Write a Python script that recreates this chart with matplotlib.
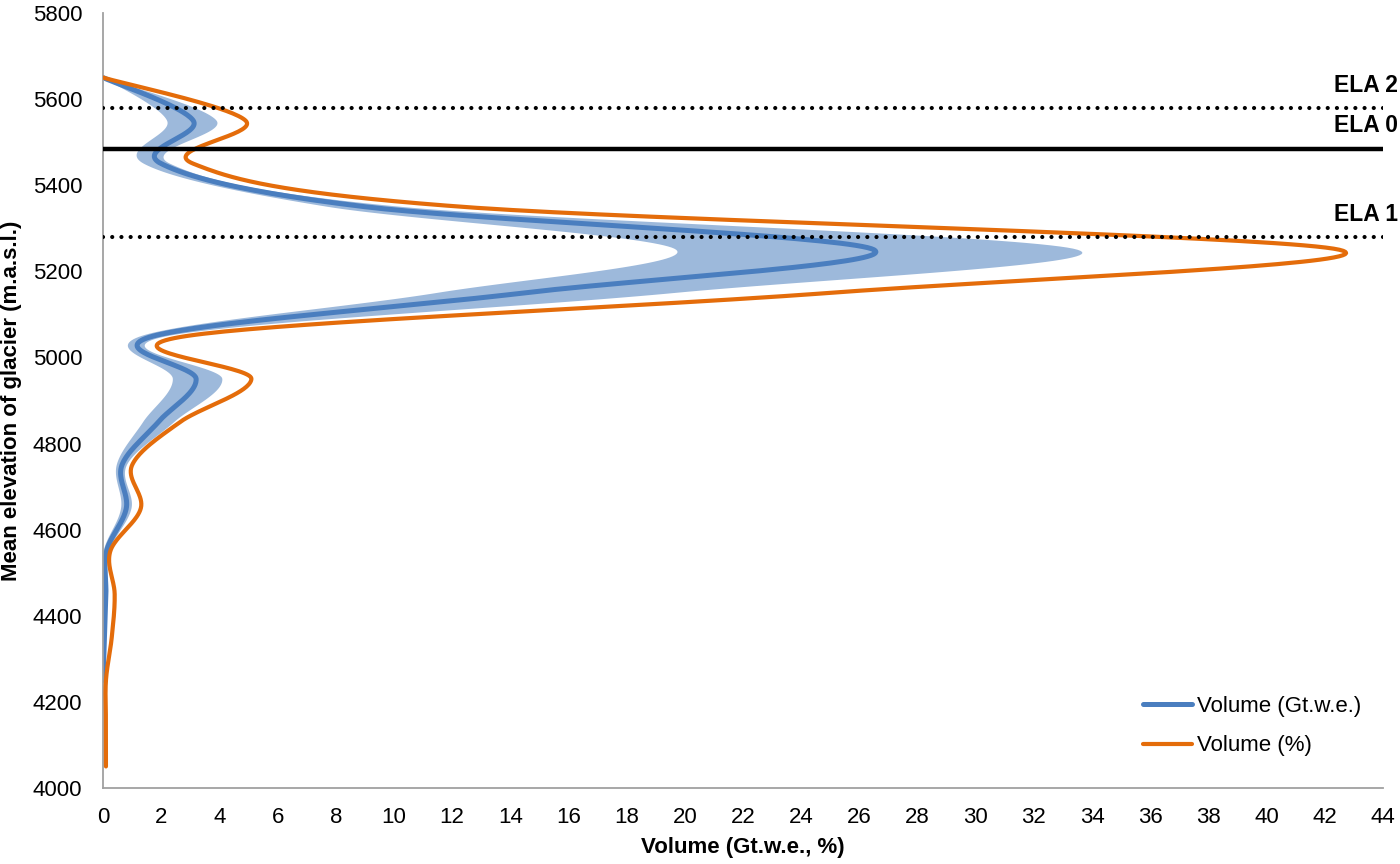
import numpy as np
import matplotlib
matplotlib.use("Agg")
import matplotlib.pyplot as plt

plt.rcParams['font.family'] = ['Liberation Sans', 'DejaVu Sans']

# ---- data ----
elev = [4050, 4150, 4250, 4350, 4450, 4550, 4650, 4750, 4850, 4950,
        5050, 5150, 5250, 5350, 5450, 5550, 5650]
vol_pct = [0.1, 0.1, 0.1, 0.3, 0.4, 0.25, 1.3, 1.0, 2.65, 5.1,
           2.9, 25.0, 42.5, 12.3, 3.1, 4.9, 0.0]

elev_gt = [4250, 4350, 4450, 4550, 4650, 4750, 4850, 4950,
           5050, 5150, 5250, 5350, 5450, 5550, 5650]
vol_gt = [0.0, 0.05, 0.1, 0.12, 0.8, 0.65, 1.9, 3.2,
          1.75, 14.5, 26.5, 9.0, 2.0, 3.1, 0.0]
band_low = [0.0, 0.0, 0.0, 0.02, 0.62, 0.47, 1.38, 2.4,
            1.33, 11.5, 19.7, 7.7, 1.4, 2.2, 0.0]
band_high = [0.0, 0.08, 0.15, 0.22, 0.98, 0.82, 2.45, 4.1,
             2.25, 19.7, 33.5, 10.2, 2.3, 3.9, 0.0]

ela_levels = [5580, 5485, 5280]
ela_labels = ['ELA 2', 'ELA 0', 'ELA 1']
ela_styles = ['dotted', 'solid', 'dotted']

xticks = list(range(0, 45, 2))
yticks = list(range(4000, 5801, 200))

BLUE = '#4a7ebf'
ORANGE = '#e46c0a'
BAND = '#9db9db'


def smooth(xs, ys, n=40):
    P = np.column_stack([np.asarray(xs, float), np.asarray(ys, float)])
    Pp = np.vstack([P[0], P, P[-1]])
    out = []
    t = np.linspace(0, 1, n)[:, None]
    for i in range(1, len(Pp) - 2):
        p0, p1, p2, p3 = Pp[i - 1], Pp[i], Pp[i + 1], Pp[i + 2]
        c1 = p1 + (p2 - p0) / 6.0
        c2 = p2 - (p3 - p1) / 6.0
        seg = ((1 - t) ** 3) * p1 + 3 * ((1 - t) ** 2) * t * c1 + 3 * (1 - t) * t ** 2 * c2 + t ** 3 * p2
        out.append(seg if i == 1 else seg[1:])
    S = np.vstack(out)
    return S[:, 0], S[:, 1]


fig = plt.figure(figsize=(14, 8.64), dpi=100)
ax = fig.add_axes([0.0736, 0.088, 0.9143, 0.897])

lx, ly = smooth(band_low, elev_gt)
hx, hy = smooth(band_high, elev_gt)
ax.fill(np.concatenate([lx, hx[::-1]]), np.concatenate([ly, hy[::-1]]),
        color=BAND, lw=0, zorder=1)

bx, by = smooth(vol_gt, elev_gt)
ax.plot(bx, by, color=BLUE, lw=3.6, solid_capstyle='round', zorder=2,
        label='Volume (Gt.w.e.)')
ox, oy = smooth(vol_pct, elev)
ax.plot(ox, oy, color=ORANGE, lw=3.0, solid_capstyle='round', zorder=3,
        label='Volume (%)')

for lev, lab, st in zip(ela_levels, ela_labels, ela_styles):
    if st == 'solid':
        ax.plot([0, 44], [lev, lev], color='black', lw=3.2, zorder=4,
                solid_capstyle='butt')
    else:
        ax.plot([0, 44], [lev, lev], color='black', lw=3.0, zorder=4,
                linestyle=(0, (0.01, 2.2)), dash_capstyle='round')
    ax.annotate(lab, xy=(1.0, lev), xycoords=('axes fraction', 'data'),
                xytext=(11, 8), textcoords='offset points',
                ha='right', va='bottom', fontsize=16.5, fontweight='bold',
                annotation_clip=False)

ax.set_xlim(0, 44)
ax.set_ylim(4000, 5800)
ax.set_xticks(xticks)
ax.set_yticks(yticks)
ax.tick_params(length=0, labelsize=16, colors='black')
ax.tick_params(axis='x', pad=14)
ax.tick_params(axis='y', pad=15)
for s in ['top', 'right']:
    ax.spines[s].set_visible(False)
for s in ['left', 'bottom']:
    ax.spines[s].set_color('#a0a0a0')
    ax.spines[s].set_linewidth(1.3)

ax.set_xlabel('Volume (Gt.w.e., %)', fontsize=16, fontweight='bold', labelpad=6)
ax.set_ylabel('Mean elevation of glacier (m.a.s.l.)', fontsize=16,
              fontweight='bold', labelpad=8)

ax.legend(loc='center left', bbox_to_anchor=(0.797, 0.080), frameon=False,
          fontsize=16, handlelength=2.2, handletextpad=0.2, labelspacing=0.85)

fig.savefig('out.png', dpi=100)
